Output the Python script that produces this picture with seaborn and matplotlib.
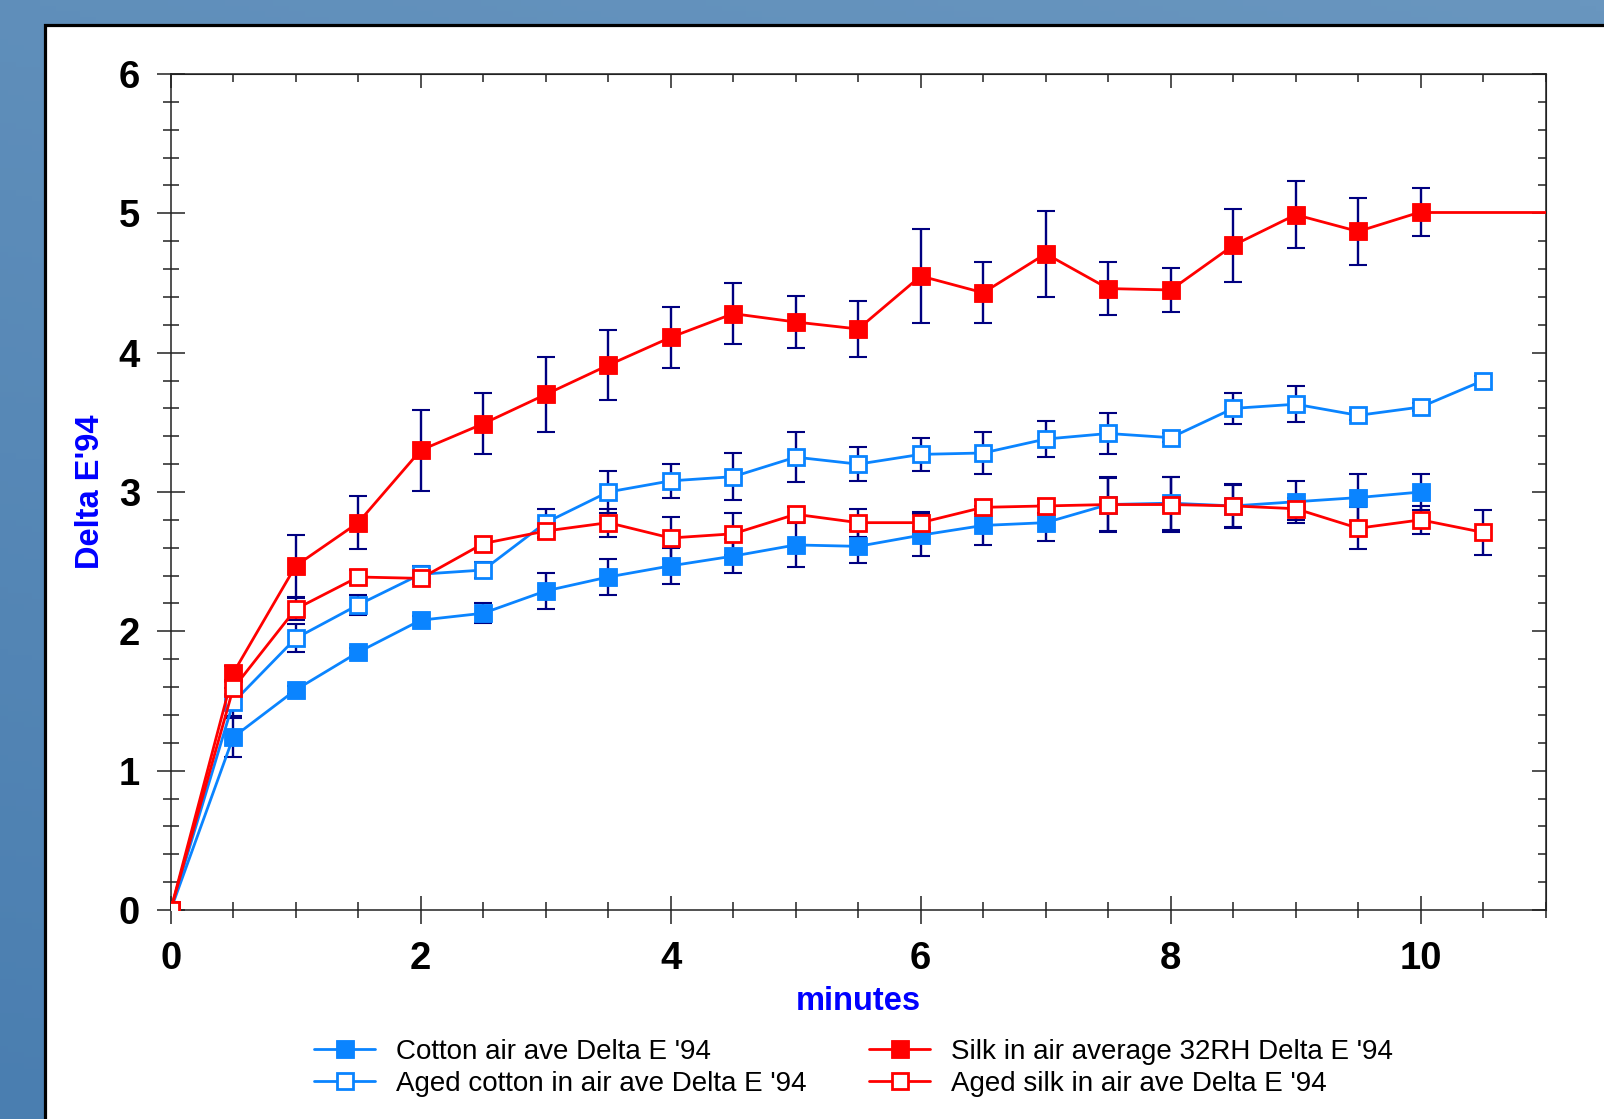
import matplotlib.pyplot as plt
import matplotlib.colors as mcolors
from matplotlib.patches import Rectangle
from matplotlib.ticker import MultipleLocator
import numpy as np
import seaborn as sns

# values
minutes = [0, 0.5, 1, 1.5, 2, 2.5, 3, 3.5, 4, 4.5, 5, 5.5,
           6, 6.5, 7, 7.5, 8, 8.5, 9, 9.5, 10, 10.5]

cotton = [0, 1.24, 1.58, 1.85, 2.08, 2.13, 2.29, 2.39, 2.47, 2.54, 2.62,
          2.61, 2.69, 2.76, 2.78, 2.91, 2.92, 2.90, 2.93, 2.96, 3.00]
cotton_err = [0, 0.14, 0.03, 0.03, 0.03, 0.07, 0.13, 0.13, 0.13, 0.12, 0.16,
              0.12, 0.15, 0.14, 0.13, 0.19, 0.19, 0.16, 0.15, 0.17, 0.13]

aged_cotton = [0, 1.49, 1.95, 2.19, 2.41, 2.44, 2.78, 3.00, 3.08, 3.11, 3.25,
               3.20, 3.27, 3.28, 3.38, 3.42, 3.39, 3.60, 3.63, 3.55, 3.61, 3.80]
aged_cotton_err = [0, 0.10, 0.10, 0.07, 0.06, 0.06, 0.10, 0.15, 0.12, 0.17, 0.18,
                   0.12, 0.12, 0.15, 0.13, 0.15, 0.03, 0.11, 0.13, 0.03, 0.03, 0.03]

silk = [0, 1.70, 2.47, 2.78, 3.30, 3.49, 3.70, 3.91, 4.11, 4.28, 4.22,
        4.17, 4.55, 4.43, 4.71, 4.46, 4.45, 4.77, 4.99, 4.87, 5.01]
silk_err = [0, 0.05, 0.22, 0.19, 0.29, 0.22, 0.27, 0.25, 0.22, 0.22, 0.19,
            0.20, 0.34, 0.22, 0.31, 0.19, 0.16, 0.26, 0.24, 0.24, 0.17]
# the silk trace runs on flat past the last measured point
silk_tail_x = [10, 11.5]
silk_tail = [5.01, 5.01]

aged_silk = [0, 1.59, 2.16, 2.39, 2.38, 2.63, 2.72, 2.78, 2.67, 2.70, 2.84,
             2.78, 2.78, 2.89, 2.90, 2.91, 2.91, 2.90, 2.88, 2.74, 2.80, 2.71]
aged_silk_err = [0, 0.05, 0.08, 0.05, 0.04, 0.05, 0.05, 0.10, 0.15, 0.15, 0.05,
                 0.10, 0.08, 0.05, 0.05, 0.20, 0.20, 0.15, 0.08, 0.15, 0.10, 0.16]

labels = ["Cotton air ave Delta E '94", "Aged cotton in air ave Delta E '94",
          "Silk in air average 32RH Delta E '94", "Aged silk in air ave Delta E '94"]

BLUE = "#0A84FF"
RED = "#FF0000"
NAVY = "#000080"

sns.set_style("ticks")
plt.rcParams['font.family'] = ['Liberation Sans', 'DejaVu Sans']
plt.rcParams['text.color'] = 'black'
plt.rcParams['xtick.labelcolor'] = 'black'
plt.rcParams['ytick.labelcolor'] = 'black'

W, H = 1604, 1119
fig = plt.figure(figsize=(W / 100, H / 100), dpi=100)

# blue backdrop and white panel
bg = fig.add_axes([0, 0, 1, 1], zorder=-10)
bg.axis('off')
cmap = mcolors.LinearSegmentedColormap.from_list("bg", ["#6996BF", "#4A7EB0"])
yy, xx = np.mgrid[0:1:200j, 0:1:200j]
bg.imshow(0.7 * yy + 0.3 * (1 - xx), cmap=cmap, extent=[0, 1, 0, 1],
          aspect='auto', origin='upper')
bg.set_xlim(0, 1)
bg.set_ylim(0, 1)
bg.add_patch(Rectangle((44.5 / W, -0.2), 1.5, 1.2 - 24.5 / H,
                       facecolor='white', edgecolor='black', lw=2.3,
                       transform=bg.transAxes, clip_on=False))

ax = fig.add_axes([170.7 / W, 1 - 910 / H, 1375 / W, 836 / H])
ax.set_facecolor('none')

series = [
    (minutes[:21], cotton, cotton_err, BLUE, True),
    (minutes, aged_cotton, aged_cotton_err, BLUE, False),
    (minutes[:21], silk, silk_err, RED, True),
    (minutes, aged_silk, aged_silk_err, RED, False),
]

for x, y, err, col, filled in series:
    ax.errorbar(x, y, yerr=err, fmt='none', ecolor=NAVY, elinewidth=1.7,
                capsize=6.2, capthick=1.5, zorder=2)

sns.lineplot(x=silk_tail_x, y=silk_tail, ax=ax, color=RED, lw=2.0, zorder=3)

for (x, y, err, col, filled), lab in zip(series, labels):
    sns.lineplot(x=x, y=y, ax=ax, color=col, lw=2.0, marker='s',
                 markersize=13 if filled else 12,
                 markerfacecolor=col if filled else 'white',
                 markeredgecolor=col, markeredgewidth=0.6 if filled else 2.0,
                 zorder=4, label=lab)

ax.get_legend().remove()
handles, _ = ax.get_legend_handles_labels()

ax.set_xlim(0, 11)
ax.set_ylim(0, 6)
ax.xaxis.set_major_locator(MultipleLocator(2))
ax.xaxis.set_minor_locator(MultipleLocator(0.5))
ax.yaxis.set_major_locator(MultipleLocator(1))
ax.yaxis.set_minor_locator(MultipleLocator(0.2))
ax.tick_params(which='major', direction='inout', length=20, width=1.1,
               pad=12, labelsize=27.5, color='#222222', labelcolor='black')
ax.tick_params(which='minor', direction='inout', length=11, width=1.1,
               color='#222222')
ax.tick_params(top=False, right=False, which='both')
for t in ax.get_xticklabels() + ax.get_yticklabels():
    t.set_fontweight('bold')
for s in ax.spines.values():
    s.set_linewidth(1.1)
    s.set_color('#222222')

# inward ticks on the top and right frame
top = ax.secondary_xaxis('top')
top.xaxis.set_major_locator(MultipleLocator(2))
top.xaxis.set_minor_locator(MultipleLocator(0.5))
top.tick_params(which='major', direction='in', length=10, width=1.1,
                labeltop=False, color='#222222')
top.tick_params(which='minor', direction='in', length=6, width=1.1,
                color='#222222')
right = ax.secondary_yaxis('right')
right.yaxis.set_major_locator(MultipleLocator(1))
right.yaxis.set_minor_locator(MultipleLocator(0.2))
right.tick_params(which='major', direction='in', length=10, width=1.1,
                  labelright=False, color='#222222')
right.tick_params(which='minor', direction='in', length=6, width=1.1,
                  color='#222222')

ax.set_xlabel('minutes', fontsize=23.5, fontweight='bold', color='#0000FF')
ax.set_ylabel("Delta E'94", fontsize=23.5, fontweight='bold', color='#0000FF')
ax.xaxis.set_label_coords(0.5, -0.091)
ax.yaxis.set_label_coords(-0.047, 0.5)

fig.legend(handles, labels, loc='upper left', ncol=2,
           bbox_to_anchor=(314 / W, 1 - 1039 / H), frameon=False,
           fontsize=20, handlelength=2.2, handletextpad=0.75,
           columnspacing=2.25, labelspacing=0.2, borderpad=0,
           borderaxespad=0, labelcolor='black')

fig.savefig('out.png', dpi=100)
